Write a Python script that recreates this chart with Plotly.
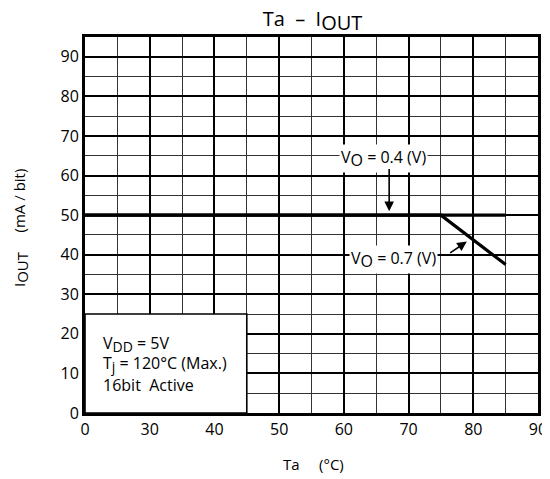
import plotly.graph_objects as go

# Data (Ta in °C, I_OUT in mA/bit)
ta_vo04 = [0, 75, 85]
iout_vo04 = [50, 50, 50]
ta_vo07 = [0, 75, 85]
iout_vo07 = [50, 50, 37.5]

x_tick_labels = ["0", "30", "40", "50", "60", "70", "80", "90"]
x_tick_temps = [0, 30, 40, 50, 60, 70, 80, 90]
y_ticks = [0, 10, 20, 30, 40, 50, 60, 70, 80, 90]


def axis_x(t):
    # broken axis: 0 °C is drawn one division left of 30 °C
    return t if t >= 30 else 20 + t / 3.0


def sub(s, size):
    return "<sub><span style='font-size:%dpx'>%s</span></sub>" % (size, s)


FONT = "Open Sans"
OFF = 8  # page body margin
W, H = 550 - OFF, 479 - OFF
L, T = 85 - OFF, 37 - OFF
R, B = W - (538 - OFF), H - (413 - OFF)
PW, PH = W - L - R, H - T - B


def px(sx):
    return (sx - OFF - L) / PW


def py(sy):
    return (T + PH - (sy - OFF)) / PH


fig = go.Figure()
fig.add_trace(go.Scatter(x=[axis_x(t) for t in ta_vo04], y=iout_vo04, mode="lines",
                         line=dict(color="black", width=3.2), showlegend=False))
fig.add_trace(go.Scatter(x=[axis_x(t) for t in ta_vo07], y=iout_vo07, mode="lines",
                         line=dict(color="black", width=3.2), showlegend=False))

grid_major = dict(showgrid=True, gridcolor="black", gridwidth=1.6)
fig.update_xaxes(range=[20, 90], tickmode="array", automargin=False,
                 tickvals=[axis_x(t) for t in x_tick_temps], ticktext=x_tick_labels,
                 ticks="", showline=True, linecolor="black", linewidth=3, mirror=True,
                 minor=dict(dtick=5, tick0=20, showgrid=True, gridcolor="#333", gridwidth=1.1),
                 tickfont=dict(family=FONT, size=16, color="black"),
                 zeroline=False, **grid_major)
fig.update_yaxes(range=[0, 95], tickmode="array", tickvals=y_ticks, automargin=False,
                 ticks="", showline=True, linecolor="black", linewidth=3, mirror=True,
                 minor=dict(dtick=5, tick0=0, showgrid=True, gridcolor="#333", gridwidth=1.1),
                 tickfont=dict(family=FONT, size=16, color="black"),
                 zeroline=False, **grid_major)

# axis titles
fig.add_annotation(xref="paper", yref="paper", x=px(313), y=py(464),
                   text="Ta     (°C)", showarrow=False, xanchor="center", yanchor="middle",
                   font=dict(family=FONT, size=15, color="black"))
fig.add_annotation(xref="paper", yref="paper", x=px(20), y=py(228),
                   text="I" + sub("OUT", 15) + "     (mA / bit)", textangle=-90, showarrow=False,
                   xanchor="center", yanchor="middle",
                   font=dict(family=FONT, size=15, color="black"))

# white condition box
fig.add_shape(type="rect", x0=20, x1=45, y0=0, y1=25, xref="x", yref="y",
              fillcolor="white", line=dict(color="black", width=1.6), layer="above")

box_font = dict(family=FONT, size=16, color="black")
for txt, yv in [("V" + sub("DD", 14) + " = 5V", 17.4), ("T" + sub("j", 14) + " = 120°C (Max.)", 12.4),
                ("16bit  Active", 7.0)]:
    fig.add_annotation(x=22.4, y=yv, xref="x", yref="y", text=txt, showarrow=False,
                       xanchor="left", yanchor="middle", font=box_font)

lab_font = dict(family=FONT, size=16, color="black")
fig.add_annotation(x=66.2, y=64.3, xref="x", yref="y", text="V" + sub("O", 16) + " = 0.4 (V)",
                   showarrow=False, bgcolor="white", font=lab_font)
fig.add_annotation(x=67, y=51, ax=67, ay=62, xref="x", yref="y", axref="x", ayref="y",
                   text="", showarrow=True, arrowhead=2, arrowsize=1.2, arrowwidth=1.6, arrowcolor="black")
fig.add_annotation(x=67.7, y=38.8, xref="x", yref="y", text="V" + sub("O", 16) + " = 0.7 (V)",
                   showarrow=False, bgcolor="white", font=lab_font)
fig.add_annotation(x=79, y=43.3, ax=76.2, ay=40.2, xref="x", yref="y", axref="x", ayref="y",
                   text="", showarrow=True, arrowhead=2, arrowsize=1.2, arrowwidth=1.6, arrowcolor="black")

fig.update_layout(
    width=W, height=H,
    margin=dict(l=L, r=R, t=T, b=B, autoexpand=False),
    paper_bgcolor="white", plot_bgcolor="white",
    title=dict(text="Ta  –  I" + sub("OUT", 20), x=(312.5 - OFF) / W, xanchor="center",
               y=1 - 4 / H, yanchor="top",
               font=dict(family=FONT, size=20, color="black")),
)

fig.write_html("out.html")
